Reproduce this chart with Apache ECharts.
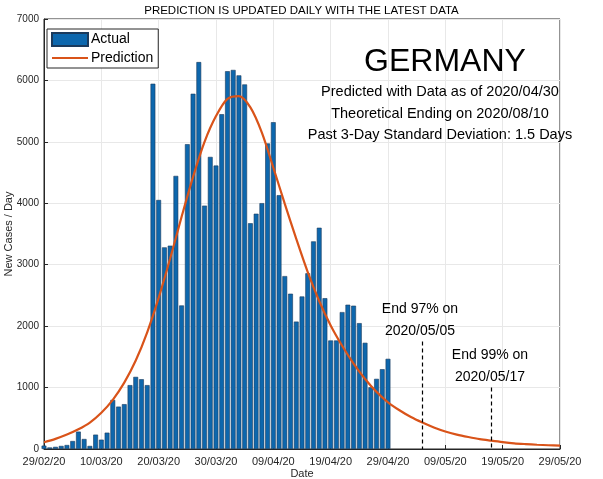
<!DOCTYPE html>
<html>
<head>
<meta charset="utf-8">
<script src="https://cdn.jsdelivr.net/npm/echarts@6/dist/echarts.min.js"></script>
<style>
html,body{margin:0;padding:0;background:#fff;}
#chart{width:603px;height:479px;}
</style>
</head>
<body>
<div id="chart"></div>
<script>
// Day index 0 = 29/02/20
const tickLabels = ['29/02/20','10/03/20','20/03/20','30/03/20','09/04/20','19/04/20','29/04/20','09/05/20','19/05/20','29/05/20'];
const actualDays = [];
for (let i = 0; i <= 60; i++) actualDays.push(i);
const actualValues = [55,25,35,50,65,130,283,163,50,234,152,266,799,690,730,1040,1174,1136,1040,5946,4054,3283,3310,4446,2337,4962,5783,6299,3962,4755,4614,5450,6150,6171,6083,5935,3675,3830,4002,4975,5320,4132,2815,2528,2074,2483,2860,3380,3602,2455,1767,1767,2229,2349,2333,2049,1729,1005,1142,1299,1468];
const predDays = [];
for (let i = 0; i <= 90; i += 2) predDays.push(i);
const predValues = [110,165,235,320,430,590,800,1080,1440,1900,2460,3100,3780,4430,5000,5420,5700,5745,5560,5150,4580,3990,3420,2880,2410,2010,1680,1390,1140,930,760,630,520,430,350,285,235,195,160,135,112,93,80,69,61,54];
const endDays = [66, 78];
const endTops = [1750, 1000];

const chart = echarts.init(document.getElementById('chart'));
const FONT = 'Liberation Sans';
const txt = (x, y, text, size) => ({type: 'text', x: x, y: y, z: 100,
  style: {text: text, font: size + 'px "Liberation Sans"', fill: '#000', align: 'center', verticalAlign: 'middle'}});
chart.setOption({
  animation: false,
  textStyle: {fontFamily: FONT},
  grid: {left: 44, right: 43, top: 19, bottom: 30, containLabel: false, outerBoundsMode: 'none',
    show: true, borderColor: '#262626', borderWidth: 1, backgroundColor: 'transparent'},
  legend: {
    left: 47, top: 29, orient: 'vertical', itemGap: 4, itemWidth: 36, itemHeight: 13,
    borderColor: '#262626', borderWidth: 1, backgroundColor: '#fff', padding: [3, 5, 3, 4],
    textStyle: {fontFamily: FONT, fontSize: 14, color: '#000', padding: [0,0,0,-2]},
    data: [{name: 'Actual', icon: 'rect'}, {name: 'Prediction', itemStyle: {opacity: 0}}]
  },
  xAxis: {
    type: 'value', min: 0, max: 90, interval: 10,
    name: 'Date', nameLocation: 'middle', nameGap: 19, nameMoveOverlap: false,
    nameTextStyle: {fontFamily: FONT, fontSize: 11, color: '#262626'},
    axisLine: {lineStyle: {color: '#262626'}},
    axisTick: {inside: true, length: 4, lineStyle: {color: '#262626'}},
    axisLabel: {fontFamily: FONT, fontSize: 11, color: '#262626', margin: 7,
      formatter: v => tickLabels[Math.round(v / 10)] || ''},
    splitLine: {show: true, lineStyle: {color: '#e8e8e8'}}
  },
  yAxis: {
    type: 'value', min: 0, max: 7000, interval: 1000,
    name: 'New Cases / Day', nameLocation: 'middle', nameGap: 30, nameMoveOverlap: false,
    nameTextStyle: {fontFamily: FONT, fontSize: 11, color: '#262626'},
    axisLine: {show: true, lineStyle: {color: '#262626'}},
    axisTick: {show: true, inside: true, length: 4, lineStyle: {color: '#262626'}},
    axisLabel: {fontFamily: FONT, fontSize: 10, color: '#262626', margin: 5, formatter: v => String(v)},
    splitLine: {show: true, lineStyle: {color: '#e8e8e8'}}
  },
  series: [
    {
      name: 'Actual', type: 'bar', barWidth: 4.8,
      data: actualDays.map((d, i) => [d, actualValues[i]]),
      itemStyle: {color: '#0d67ad', borderColor: '#1b3a5c', borderWidth: 0.6},
      clip: true
    },
    {
      name: 'Prediction', type: 'line', smooth: 0.3, symbol: 'none',
      data: predDays.map((d, i) => [d, predValues[i]]),
      lineStyle: {color: '#D95319', width: 2.2},
      itemStyle: {color: '#D95319'},
      clip: true,
      markLine: {
        silent: true, symbol: ['none', 'none'], label: {show: false},
        lineStyle: {color: '#000', type: [4, 3], width: 1.2},
        data: endDays.map((d, i) => [{coord: [d, endTops[i]]}, {coord: [d, 0]}])
      }
    }
  ],
  graphic: [
    {type: 'text', left: 'center', top: 5, z: 100, style: {text: 'PREDICTION IS UPDATED DAILY WITH THE LATEST DATA', font: '11.5px "Liberation Sans"', fill: '#000'}},
    txt(445, 62, 'GERMANY', 32),
    txt(440, 92, 'Predicted with Data as of 2020/04/30', 14.5),
    txt(440, 114, 'Theoretical Ending on 2020/08/10', 14.5),
    txt(440, 135, 'Past 3-Day Standard Deviation: 1.5 Days', 14.5),
    txt(420, 309, 'End 97% on', 14),
    txt(420, 331, '2020/05/05', 14),
    txt(490, 355, 'End 99% on', 14),
    txt(490, 377, '2020/05/17', 14)
  ]
});
</script>
</body>
</html>
